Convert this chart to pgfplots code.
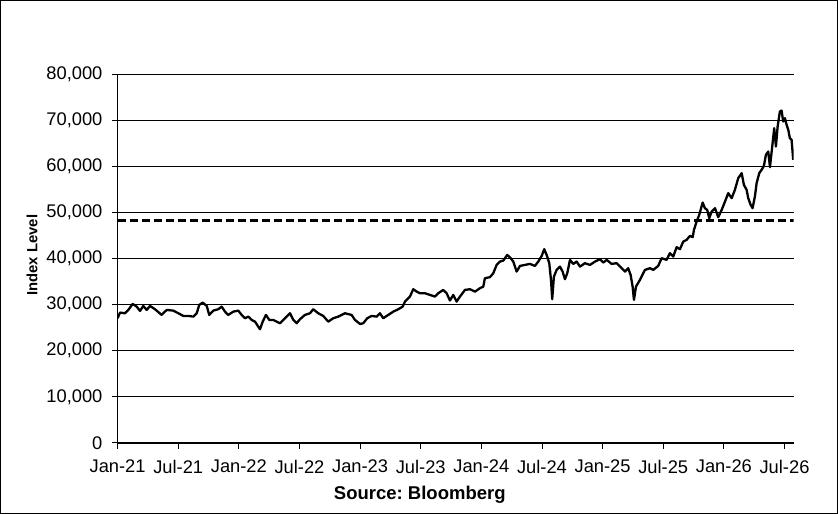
\documentclass[border=0pt]{standalone}
\usepackage{pgfplots}
\pgfplotsset{compat=1.18}
\usepackage{fontspec}
\setmainfont{Liberation Sans}
\frenchspacing
\begin{document}
\begin{tikzpicture}
\useasboundingbox (0,0) rectangle (838pt,514pt);
\begin{axis}[
    at={(117.6pt,71pt)}, anchor=south west,
    scale only axis,
    width=676pt, height=369pt,
    xmin=0, xmax=66.9,
    ymin=0, ymax=80000,
    axis x line*=bottom, axis y line*=left,
    axis line style={line width=1.2pt},
    xtick={0,6,...,66},
    xticklabels={Jan-21,Jul-21,Jan-22,Jul-22,Jan-23,Jul-23,Jan-24,Jul-24,Jan-25,Jul-25,Jan-26,Jul-26},
    ytick={0,10000,...,80000},
    scaled y ticks=false,
    /pgf/number format/assume math mode=true,
    /pgf/number format/1000 sep={,},
    tick align=outside,
    major tick length=6pt,
    tick style={line width=1pt, black},
    ymajorgrids,
    grid style={line width=0.9pt, black},
    tick label style={font=\fontsize{18.3}{18.3}\selectfont},
    xticklabel style={inner sep=0pt, anchor=north, yshift=-11pt},
    yticklabel style={inner sep=0pt, anchor=east, xshift=-9pt},
    xlabel={Source: Bloomberg},
    xlabel style={font=\bfseries\fontsize{18.5}{18.5}\selectfont, at={(axis description cs:0.447,0)}, anchor=base, yshift=-57pt},
    ylabel={Index Level},
    ylabel style={font=\bfseries\fontsize{14.8}{14.8}\selectfont, at={(axis description cs:-0.1266,0.509)}, anchor=center},
]
\addplot[black, line width=3pt, dash pattern=on 8pt off 4pt] coordinates {(0,48300) (66.9,48300)};
\addplot[black, line width=2.3pt, line join=round] coordinates {
(0,27050) (0.24,28270) (0.73,28130) (1.06,28850) (1.49,30150) (1.89,29570) (2.22,28630) (2.54,29720) (2.88,28850) (3.21,29720) (3.70,29000) (4.36,27770) (4.86,28850) (5.51,28700) (6.01,28130) (6.50,27550) (7.00,27550) (7.49,27400) (7.83,28130) (8.08,29930) (8.42,30430) (8.82,29720) (9.07,27770) (9.47,28700) (9.96,29000) (10.30,29570) (10.63,28480) (10.95,27770) (11.45,28480) (11.94,28700) (12.28,27770) (12.61,27050) (12.93,27400) (13.27,26680) (13.60,26310) (13.92,25230) (14.09,24660) (14.36,26310) (14.68,27770) (15.01,26680) (15.41,26680) (15.74,26310) (16.07,25960) (16.40,26680) (16.89,27770)
(17.06,28130) (17.39,26680) (17.72,25960) (18.05,26830) (18.54,27770) (19.04,28130) (19.36,29000) (19.86,28130) (20.35,27550) (20.85,26310) (21.34,27050) (21.84,27400) (22.50,28130) (23.16,27770) (23.49,26680) (23.99,25810) (24.31,25960) (24.71,27050) (25.14,27550) (25.64,27400) (25.96,28130) (26.29,27050) (26.79,27770) (27.28,28480) (27.78,29000) (28.21,29570) (28.44,30650) (28.93,31740) (29.26,33340) (29.60,32820) (29.92,32470) (30.42,32470) (30.91,32100) (31.41,31740) (31.73,32470) (32.23,33190) (32.56,32470) (32.89,30900) (33.22,32100) (33.55,30650) (33.88,31740)
(34.38,33190) (34.87,33340) (35.37,32820) (35.86,33560) (36.19,33910) (36.35,35730) (36.85,35950) (37.18,36810) (37.51,38610) (37.84,39330) (38.17,39550) (38.56,40780) (38.90,40070) (39.16,39330) (39.49,37160) (39.82,38390) (40.31,38610) (40.81,38830) (41.30,38390) (41.63,39330) (41.97,40560) (42.22,42020) (42.46,40780) (42.72,38980) (42.89,35360) (43.01,31170) (43.18,36080) (43.45,37530) (43.78,38240) (44.04,37160) (44.27,35510) (44.50,36810) (44.77,39700) (45.09,38830) (45.43,39330) (45.76,38240) (46.25,38980) (46.75,38610) (47.24,39330) (47.74,39850) (48.06,39110) (48.40,39700) (48.89,38830) (49.39,38980) (49.72,38240) (49.90,37890) (50.22,37160) (50.53,37890) (50.77,36440) (50.97,33900) (51.10,31020) (51.30,33900) (51.69,35360)
(52.19,37530) (52.68,37890) (53.01,37530) (53.50,38390) (53.84,40070) (54.33,39700) (54.66,41150) (54.99,40410) (55.32,42450) (55.65,42020) (55.98,43670) (56.31,44030) (56.64,44900) (56.91,44620) (57.04,46200) (57.30,48000) (57.56,49460) (57.90,52130) (58.12,50910) (58.35,50540) (58.55,48740) (58.79,50180) (59.12,50910) (59.44,48960) (59.78,50540) (60.11,52340) (60.43,54170) (60.77,53080) (61.09,54880) (61.42,57420) (61.76,58500) (61.98,55970) (62.25,54880) (62.41,53080) (62.65,51630) (62.84,50910) (63.07,53430) (63.24,56330) (63.50,58500) (63.73,59220) (63.96,60090) (64.16,62470) (64.39,63190) (64.56,59800) (64.82,65010) (64.98,68260) (65.15,64270) (65.32,68620) (65.54,71860) (65.71,72080) (65.87,69700) (66.04,70430) (66.21,68980) (66.37,67900) (66.53,66090) (66.70,65730) (66.86,61390)
};
\end{axis}
\draw[line width=1pt] (0.5pt,0.5pt) rectangle (837.5pt,513.5pt);
\end{tikzpicture}
\end{document}
